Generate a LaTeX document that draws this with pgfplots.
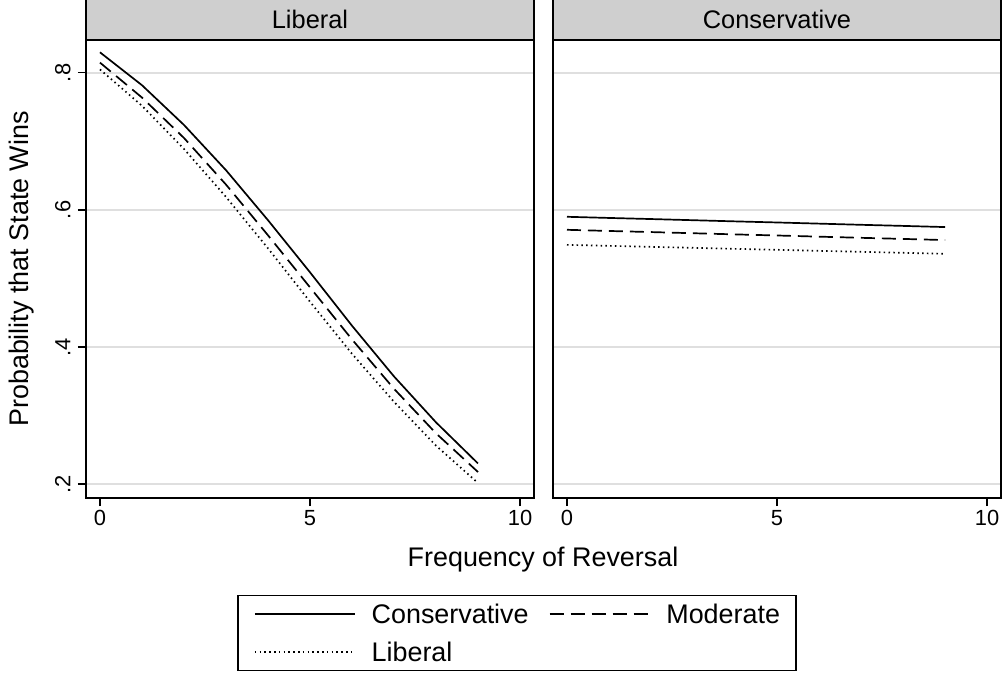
\documentclass[border=0pt]{standalone}
\usepackage{pgfplots}
\pgfplotsset{compat=1.18}
\usepackage{fontspec}
\setmainfont{Liberation Sans}
\newcommand{\bigfnt}{\fontsize{27}{32}\selectfont}
\newcommand{\titfnt}{\fontsize{25.5}{30}\selectfont}
\newcommand{\tickfnt}{\fontsize{22}{26}\selectfont}
\pgfplotsset{
  every axis title shift=0pt,
  panel/.style={
    scale only axis, width=448bp, height=458bp,
    xmin=-0.333, xmax=10.333, ymin=0.1796, ymax=0.848,
    xtick={0,5,10}, ytick={0.2,0.4,0.6,0.8},
    tick align=outside, tick pos=left, major tick length=8bp,
    axis line style={line width=1.2bp},
    every tick/.style={black, line width=1.2bp},
    ymajorgrids, grid style={gray!25, line width=1.3bp},
    /pgf/number format/assume math mode=true,
    ticklabel style={font=\tickfnt},
    xticklabel style={yshift=-1bp},
    title style={at={(0.5,1)}, anchor=south, fill=black!19, draw=black, line width=1.2bp,
      minimum width=448bp, minimum height=40bp, inner sep=0pt, yshift=0pt, font=\titfnt},
    legend image code/.code={\draw[#1] (0bp,0bp) -- (100bp,0bp);},
  },
  cons/.style={black, line width=1.7bp},
  mod/.style={black, line width=1.7bp, dash pattern=on 14bp off 7bp},
  lib/.style={black, line width=1.7bp, dash pattern=on 1.5bp off 3.3bp},
}
\begin{document}
\begin{tikzpicture}
\useasboundingbox (-86bp,-175bp) rectangle (917bp,498bp);
\begin{axis}[panel, name=left, at={(0,0)}, anchor=south west,
  title={Liberal},
  yticklabels={.2,.4,.6,.8},
  yticklabel style={rotate=90, anchor=south},
  yticklabel shift=4bp,
  ylabel={Probability that State Wins},
  ylabel style={at={(axis description cs:-0.143,0.5)}, anchor=center, font=\bigfnt},
  legend columns=2,
  legend style={at={(0.962,-0.2948)}, anchor=center, font=\bigfnt, draw=black, line width=1.2bp,
    inner xsep=16bp, inner ysep=8bp, row sep=17bp,
    nodes={inner sep=0pt},
    /tikz/every even column/.append style={column sep=20bp},
    /tikz/every odd column/.append style={column sep=16bp}},
  legend cell align=left,
]
\addplot[cons] coordinates {(0,0.830) (1,0.782) (2,0.724) (3,0.658) (4,0.585) (5,0.509) (6,0.431) (7,0.357) (8,0.290) (9,0.230)};
\addlegendentry{Conservative}
\addplot[mod] coordinates {(0,0.815) (1,0.764) (2,0.705) (3,0.637) (4,0.563) (5,0.487) (6,0.411) (7,0.339) (8,0.274) (9,0.2175)};
\addlegendentry{Moderate}
\addplot[lib] coordinates {(0,0.805) (1,0.752) (2,0.689) (3,0.619) (4,0.544) (5,0.466) (6,0.390) (7,0.320) (8,0.256) (9,0.2015)};
\addlegendentry{Liberal}
\end{axis}
\begin{axis}[panel, name=right, at={(467bp,0)}, anchor=south west,
  title={Conservative},
  yticklabels={}, ytick style={draw=none},
]
\addplot[cons] coordinates {(0,0.590) (1,0.5883) (2,0.5867) (3,0.585) (4,0.5833) (5,0.5817) (6,0.580) (7,0.5783) (8,0.5767) (9,0.575)};
\addplot[mod] coordinates {(0,0.571) (1,0.5693) (2,0.5677) (3,0.566) (4,0.5643) (5,0.5627) (6,0.561) (7,0.5593) (8,0.5577) (9,0.556)};
\addplot[lib] coordinates {(0,0.549) (1,0.5476) (2,0.5461) (3,0.5447) (4,0.5432) (5,0.5418) (6,0.5403) (7,0.5389) (8,0.5374) (9,0.536)};
\end{axis}
\node[font=\bigfnt] at (457bp,-62bp) {Frequency of Reversal};
\end{tikzpicture}
\end{document}
